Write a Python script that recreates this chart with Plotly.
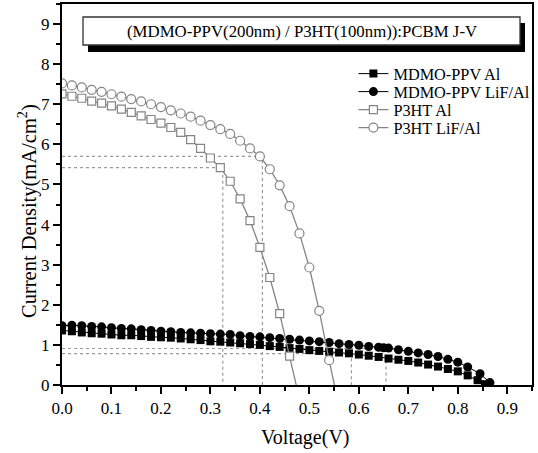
import plotly.graph_objects as go

# ---------------- data ----------------
v_p3ht_al = [0.00, 0.02, 0.04, 0.06, 0.08, 0.10, 0.12, 0.14, 0.16, 0.18, 0.20, 0.22,
             0.24, 0.26, 0.28, 0.30, 0.32, 0.34, 0.36, 0.38, 0.40, 0.42, 0.44, 0.46, 0.48]
j_p3ht_al = [7.26, 7.20, 7.15, 7.08, 7.03, 6.96, 6.88, 6.80, 6.71, 6.62, 6.53, 6.42,
             6.30, 6.12, 5.90, 5.66, 5.42, 5.08, 4.64, 4.10, 3.43, 2.68, 1.78, 0.72, -0.35]

v_p3ht_lif = [0.00, 0.02, 0.04, 0.06, 0.08, 0.10, 0.12, 0.14, 0.16, 0.18, 0.20, 0.22,
              0.24, 0.26, 0.28, 0.30, 0.32, 0.34, 0.36, 0.38, 0.40, 0.42, 0.44, 0.46,
              0.48, 0.50, 0.52, 0.54, 0.56]
j_p3ht_lif = [7.52, 7.47, 7.42, 7.36, 7.31, 7.25, 7.19, 7.13, 7.07, 7.00, 6.93, 6.85,
              6.77, 6.69, 6.59, 6.48, 6.38, 6.26, 6.09, 5.90, 5.70, 5.38, 4.98, 4.46,
              3.78, 2.93, 1.85, 0.62, -0.55]

v_mdmo_al = [0.00, 0.02, 0.04, 0.06, 0.08, 0.10, 0.12, 0.14, 0.16, 0.18, 0.20, 0.22,
             0.24, 0.26, 0.28, 0.30, 0.32, 0.34, 0.36, 0.38, 0.40, 0.42, 0.44, 0.46,
             0.48, 0.50, 0.52, 0.54, 0.56, 0.58, 0.60, 0.62, 0.64, 0.66, 0.68, 0.70,
             0.72, 0.74, 0.76, 0.78, 0.80, 0.82, 0.84, 0.855]
j_mdmo_al = [1.36, 1.34, 1.31, 1.29, 1.28, 1.26, 1.24, 1.24, 1.22, 1.20, 1.19, 1.18,
             1.16, 1.14, 1.12, 1.09, 1.08, 1.06, 1.04, 1.02, 1.00, 0.97, 0.95, 0.92,
             0.90, 0.87, 0.85, 0.83, 0.81, 0.79, 0.76, 0.73, 0.70, 0.66, 0.63, 0.60,
             0.56, 0.51, 0.46, 0.40, 0.34, 0.24, 0.12, 0.02]

v_mdmo_lif = [0.00, 0.02, 0.04, 0.06, 0.08, 0.10, 0.12, 0.14, 0.16, 0.18, 0.20, 0.22,
              0.24, 0.26, 0.28, 0.30, 0.32, 0.34, 0.36, 0.38, 0.40, 0.42, 0.44, 0.46,
              0.48, 0.50, 0.52, 0.54, 0.56, 0.58, 0.60, 0.62, 0.64, 0.65, 0.66, 0.68,
              0.70, 0.72, 0.74, 0.76, 0.78, 0.80, 0.82, 0.845, 0.865]
j_mdmo_lif = [1.48, 1.49, 1.48, 1.46, 1.45, 1.43, 1.41, 1.40, 1.38, 1.36, 1.34, 1.33,
              1.31, 1.30, 1.29, 1.28, 1.27, 1.26, 1.23, 1.21, 1.20, 1.18, 1.16, 1.14,
              1.12, 1.10, 1.08, 1.06, 1.03, 1.01, 0.99, 0.96, 0.94, 0.93, 0.92, 0.88,
              0.84, 0.80, 0.76, 0.71, 0.64, 0.57, 0.45, 0.28, 0.06]

# maximum power points (dotted guide lines)
mpp_v = [0.325, 0.405, 0.585, 0.655]
mpp_j = [5.42, 5.70, 0.78, 0.91]

x_ticks = [0.0, 0.1, 0.2, 0.3, 0.4, 0.5, 0.6, 0.7, 0.8, 0.9]
y_ticks = [0, 1, 2, 3, 4, 5, 6, 7, 8, 9]

series_names = ["MDMO-PPV Al", "MDMO-PPV LiF/Al", "P3HT Al", "P3HT LiF/Al"]
title_text = "(MDMO-PPV(200nm) / P3HT(100nm)):PCBM J-V"
x_title = "Voltage(V)"
y_title = "Current Density(mA/cm<sup>2</sup>)"

FONT = "Liberation Serif, Times New Roman, serif"
GRAY = "#858585"

fig = go.Figure()

# dotted guides
for v, j in zip(mpp_v, mpp_j):
    fig.add_trace(go.Scatter(x=[0, v, v], y=[j, j, 0], mode="lines",
                             line=dict(color="#9a9a9a", width=1.2, dash="dot"),
                             showlegend=False, hoverinfo="skip"))

fig.add_trace(go.Scatter(x=v_mdmo_al, y=j_mdmo_al, mode="lines+markers", name=series_names[0],
                         legend="legend",
                         line=dict(color="black", width=1),
                         marker=dict(symbol="square", size=8, color="black")))
fig.add_trace(go.Scatter(x=v_mdmo_lif, y=j_mdmo_lif, mode="lines+markers", name=series_names[1],
                         legend="legend2",
                         line=dict(color="black", width=1),
                         marker=dict(symbol="circle", size=9, color="black")))
fig.add_trace(go.Scatter(x=v_p3ht_al, y=j_p3ht_al, mode="lines+markers", name=series_names[2],
                         legend="legend3",
                         line=dict(color=GRAY, width=1.3),
                         marker=dict(symbol="square", size=8, color="white",
                                     line=dict(color=GRAY, width=1.2))))
fig.add_trace(go.Scatter(x=v_p3ht_lif, y=j_p3ht_lif, mode="lines+markers", name=series_names[3],
                         legend="legend4",
                         line=dict(color=GRAY, width=1.3),
                         marker=dict(symbol="circle", size=9, color="white",
                                     line=dict(color=GRAY, width=1.2))))

# title box with drop shadow
fig.add_shape(type="rect", xref="paper", yref="paper", x0=0.0553, x1=0.9851, y0=0.874, y1=0.950,
              fillcolor="black", line=dict(width=0), layer="above")
fig.add_shape(type="rect", xref="paper", yref="paper", x0=0.0447, x1=0.9745, y0=0.8924, y1=0.9659,
              fillcolor="white", line=dict(color="#333", width=1.3), layer="above")
fig.add_annotation(text=title_text, xref="paper", yref="paper", x=0.51, y=0.929,
                   xanchor="center", yanchor="middle",
                   showarrow=False, font=dict(family=FONT, size=16.8, color="black"))

# axis titles (placed like the original, slightly off-centre)
fig.add_annotation(text=x_title, xref="paper", yref="paper", x=(305 - 62) / 470, y=(385 - 437) / 381,
                   xanchor="center", yanchor="middle", showarrow=False,
                   font=dict(family=FONT, size=20, color="black"))
fig.add_annotation(text=y_title, xref="paper", yref="paper", x=(28 - 62) / 470, y=(385 - 211) / 381,
                   xanchor="center", yanchor="middle", textangle=-90, showarrow=False,
                   font=dict(family=FONT, size=20.5, color="black"))

legend_rows_px = [74, 92, 110, 128]
leg_common = dict(x=0.62, xanchor="left", yanchor="middle",
                  bgcolor="rgba(0,0,0,0)", font=dict(family=FONT, size=16.3, color="black"))
legends = {}
for k, py in enumerate(legend_rows_px):
    key = "legend" if k == 0 else f"legend{k + 1}"
    legends[key] = dict(y=(385 - py) / 381, **leg_common)

fig.update_layout(
    width=538, height=453,
    margin=dict(l=62, r=6, t=4, b=68, autoexpand=False),
    paper_bgcolor="white", plot_bgcolor="white",
    font=dict(family=FONT, color="black", size=16),
    showlegend=True,
    xaxis=dict(range=[0, 0.95], tickvals=x_ticks, tickformat=".1f",
               showline=True, linecolor="black", linewidth=2, mirror=True,
               ticks="outside", ticklen=7, tickwidth=1.5, tickcolor="black",
               minor=dict(dtick=0.05, ticks="outside", ticklen=4, tickwidth=1.5, tickcolor="black"),
               showgrid=False, zeroline=False,
               tickfont=dict(family=FONT, size=17)),
    yaxis=dict(range=[0, 9.5], tickvals=y_ticks,
               showline=True, linecolor="black", linewidth=2, mirror=True,
               ticks="outside", ticklen=7, tickwidth=1.5, tickcolor="black",
               minor=dict(dtick=0.5, ticks="outside", ticklen=4, tickwidth=1.5, tickcolor="black"),
               showgrid=False, zeroline=False,
               tickfont=dict(family=FONT, size=17)),
    **legends,
)

fig.write_html("out.html")
